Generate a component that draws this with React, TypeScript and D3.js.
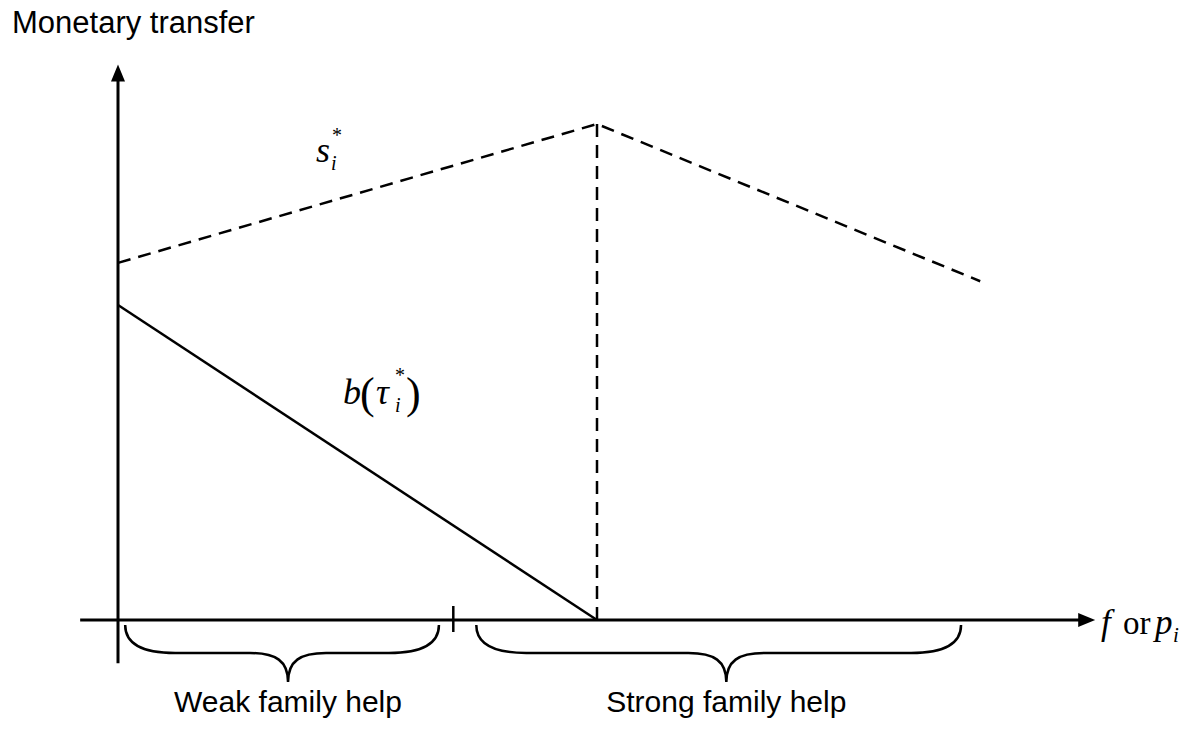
import React from "react";
import * as d3 from "d3";

const WIDTH = 1191;
const HEIGHT = 731;

// s_i^* : rises to the kink, then falls
const subsidyX = [0, 1, 1.8];
const subsidyY = [0.72, 1, 0.683];

// b(tau_i^*) : falls to zero at the kink
const benefitX = [0, 1];
const benefitY = [0.635, 0];

const KINK_X = 1;
const THRESHOLD_X = 0.7;

const REGIONS = ["Weak family help", "Strong family help"];
const REGION_FROM = [0.015, 0.748];
const REGION_TO = [0.67, 1.76];
const REGION_TIP = [0.355, 1.27];

const x = d3.scaleLinear().domain([0, 1]).range([118, 597]);
const y = d3.scaleLinear().domain([0, 1]).range([620, 124]);

const X_MIN = -0.079;
const X_MAX = 2.04;
const Y_MIN = -0.087;
const Y_MAX = 1.12;

function bracePath(x1, x2, cx, top) {
  const mid = top + 28;
  const tip = top + 57;
  return [
    `M${x1},${top}`,
    `C${x1},${mid - 8} ${x1 + 20},${mid} ${x1 + 50},${mid}`,
    `L${cx - 38},${mid}`,
    `C${cx - 12},${mid} ${cx},${mid + 8} ${cx},${tip}`,
    `C${cx},${mid + 8} ${cx + 12},${mid} ${cx + 38},${mid}`,
    `L${x2 - 50},${mid}`,
    `C${x2 - 20},${mid} ${x2},${mid - 8} ${x2},${top}`,
  ].join(" ");
}

export default function App() {
  const line = d3
    .line<number>()
    .x((d) => x(d[0]))
    .y((d) => y(d[1]));

  const subsidy = line(subsidyX.map((v, i) => [v, subsidyY[i]]) as any);
  const benefit = line(benefitX.map((v, i) => [v, benefitY[i]]) as any);

  const x0 = x(0);
  const y0 = y(0);
  const yTop = y(Y_MAX);
  const xEnd = x(X_MAX);
  const serif = "'Liberation Serif', 'Times New Roman', serif";
  const sans = "'Liberation Sans', Arial, sans-serif";

  return (
    <div style={{ position: "fixed", left: 0, top: 0, background: "#fff" }}>
      <svg width={WIDTH} height={HEIGHT} style={{ display: "block" }}>
        <rect width={WIDTH} height={HEIGHT} fill="#fff" />

        <text x={12} y={33} fontFamily={sans} fontSize={31} fill="#000">
          Monetary transfer
        </text>

        {/* axes */}
        <line x1={x0} x2={x0} y1={y(Y_MIN)} y2={yTop + 14} stroke="#000" strokeWidth={3} />
        <path d={`M${x0},${yTop} L${x0 - 7},${yTop + 17} L${x0 + 7},${yTop + 17} Z`} fill="#000" />
        <line x1={x(X_MIN)} x2={xEnd - 14} y1={y0} y2={y0} stroke="#000" strokeWidth={3} />
        <path d={`M${xEnd},${y0} L${xEnd - 17},${y0 - 7} L${xEnd - 17},${y0 + 7} Z`} fill="#000" />

        {/* threshold tick */}
        <line x1={x(THRESHOLD_X)} x2={x(THRESHOLD_X)} y1={y0 - 14} y2={y0 + 12} stroke="#000" strokeWidth={2.5} />

        {/* curves */}
        <path d={subsidy} fill="none" stroke="#000" strokeWidth={2.5} strokeDasharray="13,8" />
        <line
          x1={x(KINK_X)}
          x2={x(KINK_X)}
          y1={y(subsidyY[1])}
          y2={y0}
          stroke="#000"
          strokeWidth={2.5}
          strokeDasharray="13,8"
        />
        <path d={benefit} fill="none" stroke="#000" strokeWidth={2.5} />

        {/* braces */}
        {REGIONS.map((label, i) => {
          const a = x(REGION_FROM[i]);
          const b = x(REGION_TO[i]);
          const c = x(REGION_TIP[i]);
          return (
            <g key={label}>
              <path d={bracePath(a, b, c, y0 + 5)} fill="none" stroke="#000" strokeWidth={2.5} />
              <text x={c} y={y0 + 92} textAnchor="middle" fontFamily={sans} fontSize={30} fill="#000">
                {label}
              </text>
            </g>
          );
        })}

        {/* math labels */}
        <g fontFamily={serif} fill="#000" fontStyle="italic">
          <text x={316} y={162} fontSize={36}>s</text>
          <text x={332} y={142} fontSize={20} fontStyle="normal">*</text>
          <text x={331} y={170} fontSize={20}>i</text>

          <text x={343} y={404} fontSize={36}>b</text>
          <text x={360} y={408} fontSize={44} fontStyle="normal">(</text>
          <text x={376} y={404} fontSize={36}>τ</text>
          <text x={395} y={382} fontSize={20} fontStyle="normal">*</text>
          <text x={395} y={412} fontSize={20}>i</text>
          <text x={406} y={408} fontSize={44} fontStyle="normal">)</text>

          <text x={1101} y={634} fontSize={35}>f</text>
          <text x={1123} y={634} fontSize={33} fontStyle="normal">or</text>
          <text x={1155} y={634} fontSize={35}>p</text>
          <text x={1173} y={642} fontSize={21}>i</text>
        </g>
      </svg>
    </div>
  );
}
